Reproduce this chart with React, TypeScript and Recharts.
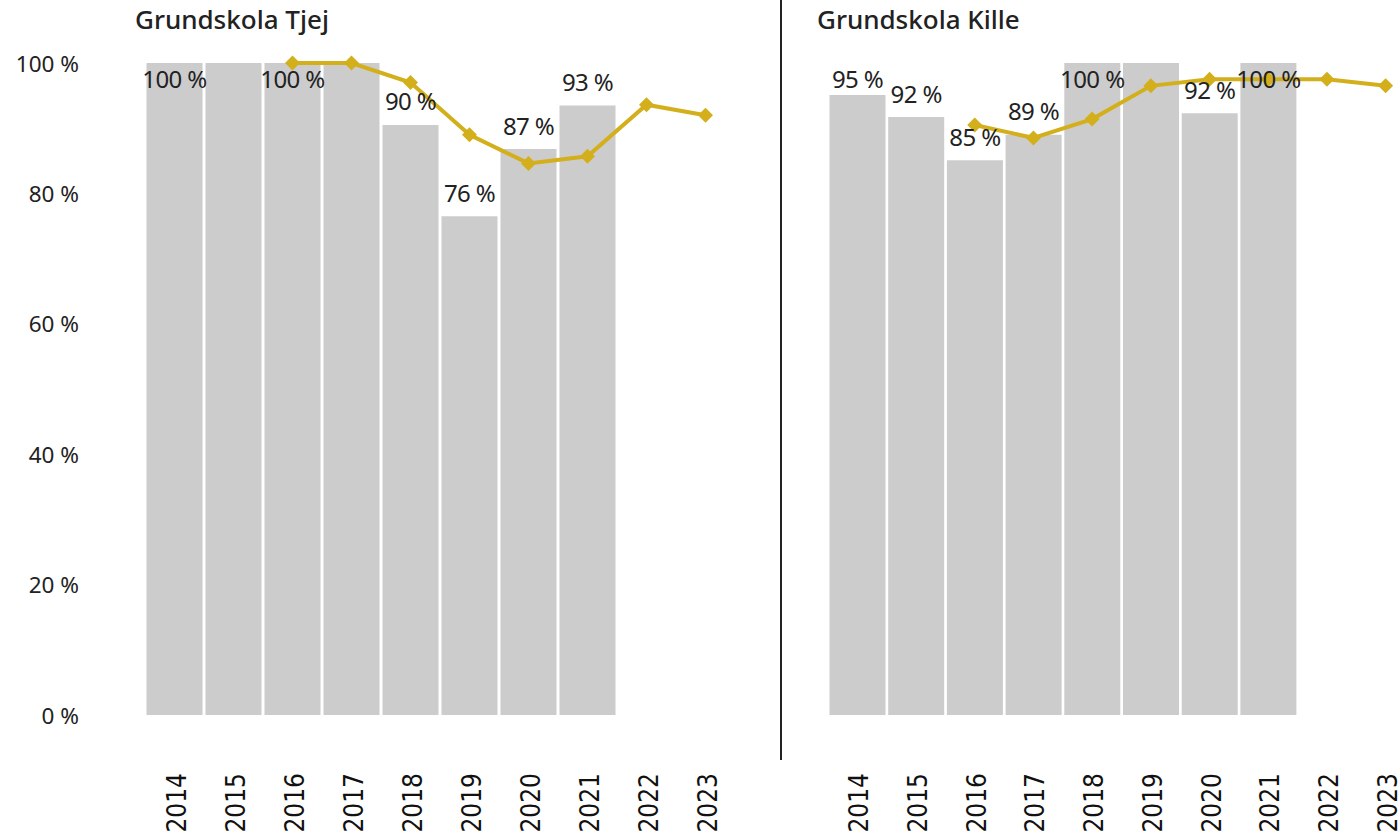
import React from "react";
import { ComposedChart, Bar, Line, XAxis, YAxis, LabelList } from "recharts";

const years = ["2014", "2015", "2016", "2017", "2018", "2019", "2020", "2021", "2022", "2023"];
const yTicks = [0, 20, 40, 60, 80, 100];

const tjejBars = [100, 100, 100, 100, 90.5, 76.5, 86.8, 93.5, null, null];
const tjejLabels = ["100 %", null, "100 %", null, "90 %", "76 %", "87 %", "93 %", null, null];
const tjejLine = [null, null, 100, 100, 97, 89, 84.6, 85.7, 93.6, 92];

const killeBars = [95.1, 91.7, 85.1, 89, 100, 100, 92.3, 100, null, null];
const killeLabels = ["95 %", "92 %", "85 %", "89 %", "100 %", null, "92 %", "100 %", null, null];
const killeLine = [null, null, 90.5, 88.5, 91.4, 96.5, 97.5, 97.5, 97.5, 96.5];

const GOLD = "#D4AF1C";
const BAR = "#CCCCCC";

const build = (bars: (number | null)[], line: (number | null)[]) =>
  years.map((year, i) => ({ year, bar: bars[i], line: line[i] }));

const Diamond = (props: any) => {
  const { cx, cy, value, index } = props;
  if (value == null || cx == null || cy == null) return <g key={index} />;
  const r = 7.5;
  return (
    <path
      key={index}
      d={`M${cx},${cy - r} L${cx + r},${cy} L${cx},${cy + r} L${cx - r},${cy} Z`}
      fill={GOLD}
    />
  );
};

// year labels read bottom-to-top, slightly narrowed
const YearTick = ({ x, y, payload }: any) => (
  <text
    transform={`translate(${x + 11},${y + 50}) rotate(-90) scale(0.9,1)`}
    textAnchor="end"
    fontFamily="DejaVu Sans"
    fontSize={26}
    fill="#111"
  >
    {payload.value}
  </text>
);

const PctTick = ({ x, y, payload }: any) => (
  <text
    x={x - 58}
    y={y}
    textAnchor="end"
    dominantBaseline="central"
    fontFamily="Noto Sans"
    fontSize={22.5}
    fill="#222"
  >
    {payload.value} %
  </text>
);

function Panel({
  bars,
  labels,
  line,
  showY,
  width,
  margin,
}: {
  bars: (number | null)[];
  labels: (string | null)[];
  line: (number | null)[];
  showY: boolean;
  width: number;
  margin: { top: number; right: number; left: number; bottom: number };
}) {
  const data = build(bars, line);
  const renderLabel = (p: any) => {
    const text = labels[p.index];
    if (!text) return null;
    const cx = p.x + p.width / 2;
    const cy = Math.max(p.y - 24, 78);
    return (
      <text
        key={p.index}
        x={cx}
        y={cy}
        textAnchor="middle"
        dominantBaseline="central"
        fontFamily="Noto Sans"
        fontSize={24}
        letterSpacing={-0.6}
        fill="#222"
      >
        {text}
      </text>
    );
  };
  return (
    <ComposedChart width={width} height={839} data={data} margin={margin} barCategoryGap={1.5}>
      <XAxis
        dataKey="year"
        axisLine={false}
        tickLine={false}
        height={124}
        interval={0}
        tick={<YearTick />}
      />
      <YAxis
        domain={[0, 100]}
        ticks={yTicks}
        axisLine={false}
        tickLine={false}
        width={showY ? 145 : 0}
        hide={!showY}
        tick={<PctTick />}
      />
      <Bar dataKey="bar" fill={BAR} isAnimationActive={false}>
        <LabelList dataKey="bar" content={renderLabel} />
      </Bar>
      <Line
        dataKey="line"
        stroke={GOLD}
        strokeWidth={4}
        dot={Diamond}
        activeDot={false}
        isAnimationActive={false}
      />
    </ComposedChart>
  );
}

const titleStyle: React.CSSProperties = {
  position: "absolute",
  top: 1,
  fontFamily: "Noto Sans",
  fontWeight: 500,
  fontSize: 26,
  color: "#222",
  whiteSpace: "nowrap",
};

export default function App() {
  return (
    <div
      style={{
        position: "absolute",
        top: 0,
        left: 0,
        width: 1398,
        height: 839,
        overflow: "hidden",
        background: "#fff",
      }}
    >
      <div style={{ position: "absolute", left: 0, top: 0 }}>
        <Panel
          bars={tjejBars}
          labels={tjejLabels}
          line={tjejLine}
          showY
          width={781}
          margin={{ top: 63, right: 46, left: 0, bottom: 0 }}
        />
      </div>
      <div style={{ position: "absolute", left: 781, top: 0 }}>
        <Panel
          bars={killeBars}
          labels={killeLabels}
          line={killeLine}
          showY={false}
          width={700}
          margin={{ top: 63, right: 66, left: 47, bottom: 0 }}
        />
      </div>
      <div
        style={{
          position: "absolute",
          left: 780,
          top: 0,
          width: 2,
          height: 760,
          background: "#222",
        }}
      />
      <div style={{ ...titleStyle, left: 135 }}>Grundskola Tjej</div>
      <div style={{ ...titleStyle, left: 817 }}>Grundskola Kille</div>
    </div>
  );
}
